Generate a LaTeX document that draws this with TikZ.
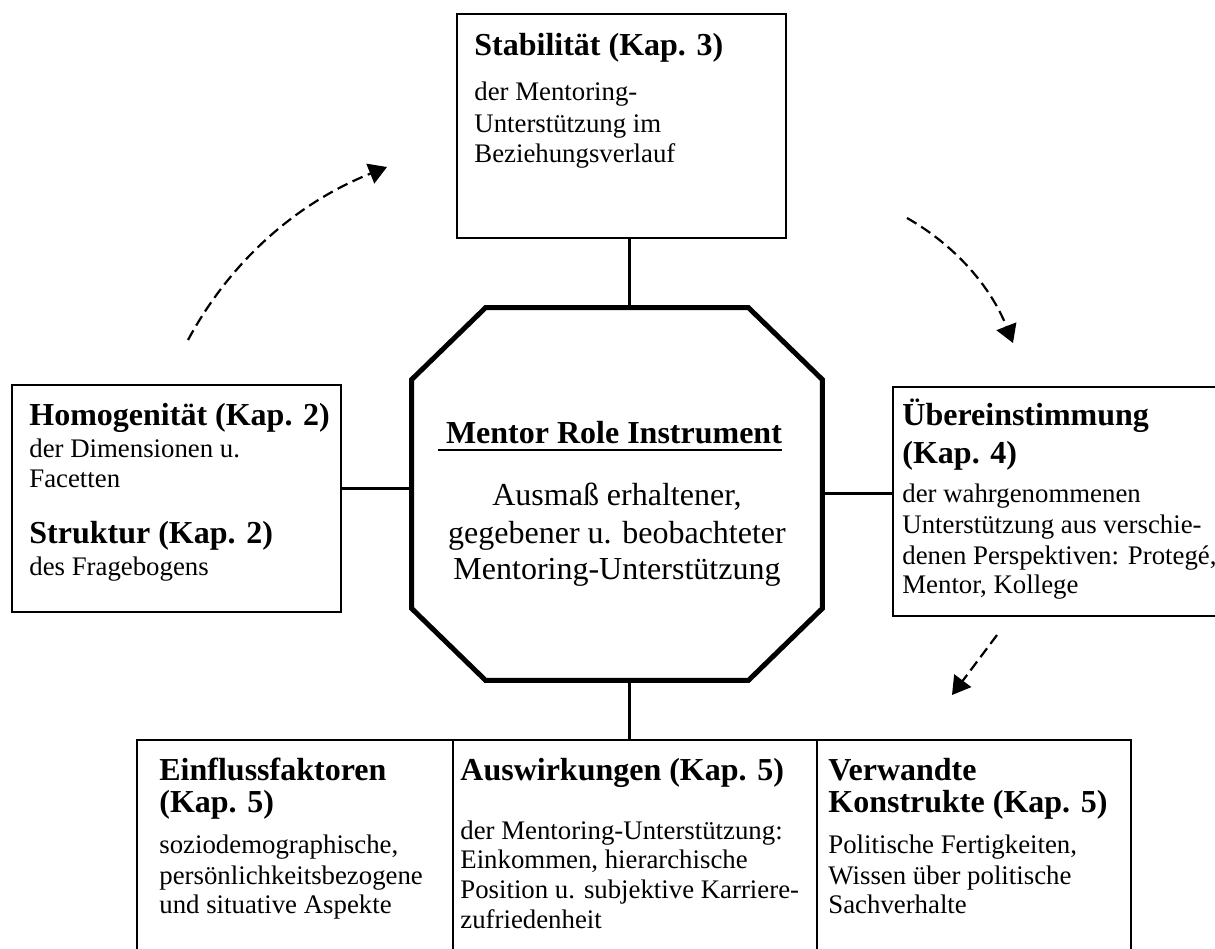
\documentclass[tikz,border=0pt]{standalone}
\usepackage{fontspec}
\setmainfont{Liberation Serif}
\usetikzlibrary{arrows.meta,fit}
\newcommand\hd[1]{\hbox{\fontsize{16}{16}\selectfont\bfseries #1}}
\newcommand\bd[1]{\hbox{\fontsize{13.4}{15.5}\selectfont #1}}
\newcommand\bcn[1]{\hbox to 0pt{\hss\fontsize{16}{16}\selectfont #1\hss}}
\newcommand\sk[1]{\baselineskip=#1pt\relax}
\newcommand\myul[1]{\setbox0\hbox{#1}\rlap{\rule[-4pt]{\wd0}{1pt}}\box0}
\begin{document}
\begin{tikzpicture}[x=0.5pt,y=-0.5pt,
  box/.style={draw,line width=1pt,inner sep=0pt},
  txt/.style={anchor=base west,inner sep=0pt},
  conn/.style={line width=1.5pt},
  octline/.style={line width=2.5pt},
  darr/.style={line width=1.1pt,dash pattern=on 5.5pt off 2.8pt,-{Triangle[length=9pt,width=10.5pt]}}]
\useasboundingbox (0,0) rectangle (1215,948);
\clip (0,0) rectangle (1215,948);

\coordinate (cx) at (629.5,0);
\coordinate (cyl) at (0,488);
\coordinate (cyr) at (0,493);

% boxes
\node[box,fit={(457,14) (786,238)}] (top) {};
\node[box,fit={(12,385) (341,612)}] (left) {};
\node[box,fit={(893,387) (1224,616)}] (right) {};
\node[box,fit={(137,740) (453,964)}] (bl) {};
\node[box,fit={(453,740) (817,964)}] (bm) {};
\node[box,fit={(817,740) (1131,964)}] (br) {};
\node[inner sep=0pt,minimum width=205pt,minimum height=186pt] (oct) at (617,494) {};

% connectors
\draw[conn] (top.south -| cx) -- (oct.north -| cx);
\draw[conn] (oct.south -| cx) -- (bm.north -| cx);
\draw[conn] (left.east |- cyl) -- (oct.west |- cyl);
\draw[conn] (oct.east |- cyr) -- (right.west |- cyr);

% octagon
\draw[octline,fill=white] ([xshift=37pt]oct.north west) -- ([xshift=-37pt]oct.north east)
  -- ([yshift=-36pt]oct.north east) -- ([yshift=36pt]oct.south east)
  -- ([xshift=-37pt]oct.south east) -- ([xshift=37pt]oct.south west)
  -- ([yshift=36pt]oct.south west) -- ([yshift=-36pt]oct.north west) -- cycle;

% texts
\node[txt] (ttop) at (474,55) {\vtop{\hd{Stabilität (Kap. 3)}\sk{22.5}\bd{der Mentoring-}\sk{16}\bd{Unterstützung im}\sk{15}\bd{Beziehungsverlauf}}};
\node[txt] (tleft) at (29,425) {\vtop{\hd{Homogenität (Kap. 2)}\sk{16}\bd{der Dimensionen u.}\sk{15}\bd{Facetten}\sk{28}\hd{Struktur (Kap. 2)}\sk{16}\bd{des Fragebogens}}};
\node[txt] (tright) at (902,425) {\vtop{\hd{Übereinstimmung}\sk{19}\hd{(Kap. 4)}\sk{19.5}\bd{der wahrgenommenen}\sk{15.5}\bd{Unterstützung aus verschie-}\sk{15.5}\bd{denen Perspektiven: Protegé,}\sk{14.5}\bd{Mentor, Kollege}}};
\node[txt] (tbl) at (159,780) {\vtop{\hd{Einflussfaktoren}\sk{16}\hd{(Kap. 5)}\sk{20.5}\bd{soziodemographische,}\sk{15.5}\bd{persönlichkeitsbezogene}\sk{14.5}\bd{und situative Aspekte}}};
\node[txt] (tbm) at (460,780) {\vtop{\hd{Auswirkungen (Kap. 5)}\sk{29.5}\bd{der Mentoring-Unterstützung:}\sk{14.5}\bd{Einkommen, hierarchische}\sk{15}\bd{Position u. subjektive Karriere-}\sk{15}\bd{zufriedenheit}}};
\node[txt] (tbr) at (828,780) {\vtop{\hd{Verwandte}\sk{16}\hd{Konstrukte (Kap. 5)}\sk{20.5}\bd{Politische Fertigkeiten,}\sk{15.5}\bd{Wissen über politische}\sk{14.5}\bd{Sachverhalte}}};
\node[anchor=base,inner sep=0pt] (toct) at (617,443) {\vtop{\hbox to 0pt{\hss\fontsize{16}{16}\selectfont\bfseries\myul{\ Mentor Role Instrument}\kern7pt\hss}\sk{31}\bcn{Ausmaß erhaltener,}\sk{19}\bcn{gegebener u. beobachteter}\sk{18}\bcn{Mentoring-Unterstützung}}};

% dashed arrows
\coordinate (a1s) at (188,340);
\coordinate (a1e) at (387,167);
\coordinate (a2s) at (907,218);
\coordinate (a2e) at (1013,343);
\coordinate (a3s) at (997,635);
\coordinate (a3e) at (952,695);
\draw[darr] (a1s) .. controls (231,260.3) and (297.3,202.7) .. (a1e);
\draw[darr] (a2s) .. controls (955.7,245.7) and (991,287.3) .. (a2e);
\draw[darr] (a3s) -- (a3e);
\end{tikzpicture}
\end{document}
